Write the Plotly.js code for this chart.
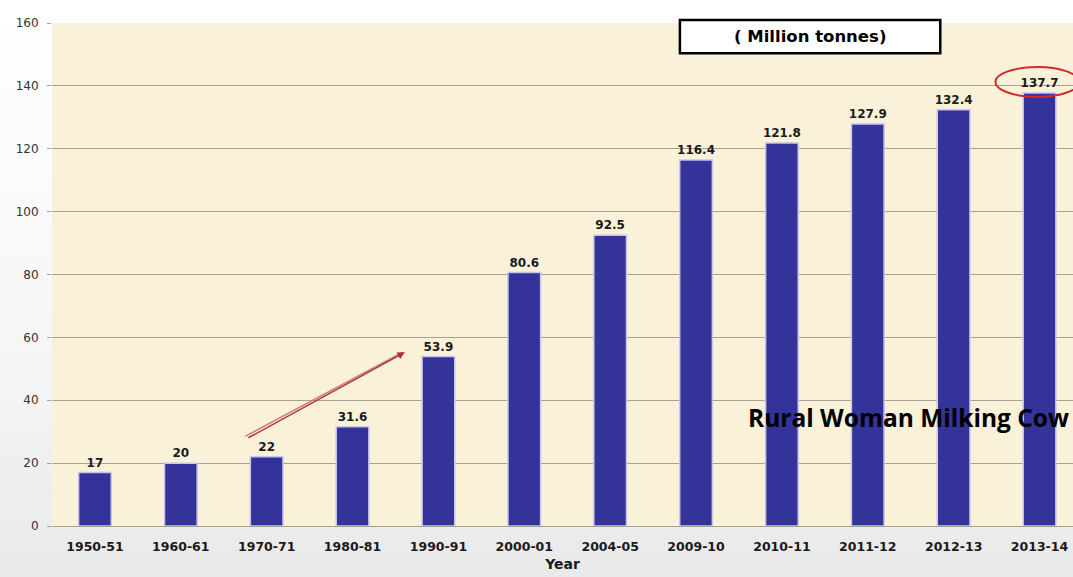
<!DOCTYPE html>
<html><head><meta charset="utf-8">
<script src="https://cdn.plot.ly/plotly-3.0.1.min.js"></script>
<style>html,body{margin:0;padding:0;background:linear-gradient(180deg,#ffffff 0%,#f6f6f6 60%,#e9e9e9 100%)}</style>
</head><body>
<div id="chart" style="width:1073px;height:577px"></div>
<script>
const years = ["1950-51","1960-61","1970-71","1980-81","1990-91","2000-01","2004-05","2009-10","2010-11","2011-12","2012-13","2013-14"];
const milkProduction = [17, 20, 22, 31.6, 53.9, 80.6, 92.5, 116.4, 121.8, 127.9, 132.4, 137.7];
const valueLabels = ["17","20","22","31.6","53.9","80.6","92.5","116.4","121.8","127.9","132.4","137.7"];
const yTicks = [0, 20, 40, 60, 80, 100, 120, 140, 160];

const trace = {
  type: 'bar',
  x: years.map((_, i) => i),
  y: milkProduction,
  text: valueLabels,
  textposition: 'outside',
  constraintext: 'none',
  cliponaxis: false,
  textfont: {family: 'DejaVu Sans', size: 12, color: '#1a1a1a', weight: 'bold'},
  width: 0.38,
  marker: {color: '#333399', line: {color: '#c8c4ec', width: 1.5}},
  hoverinfo: 'skip'
};

const layout = {
  width: 1073, height: 577,
  margin: {l: 52, r: 0, t: 23, b: 51},
  paper_bgcolor: 'rgba(0,0,0,0)',
  plot_bgcolor: '#faf1d9',
  showlegend: false,
  bargap: 0.6,
  xaxis: {
    range: [-0.5, 11.39],
    tickmode: 'array', tickvals: years.map((_, i) => i), ticktext: years,
    tickfont: {family: 'DejaVu Sans', size: 12.5, color: '#1a1a1a', weight: 'bold'},
    ticklabelstandoff: 11,
    showgrid: false, zeroline: false, showline: false,
    title: {text: 'Year', font: {family: 'DejaVu Sans', size: 14, color: '#1a1a1a', weight: 'bold'}, standoff: 6},
    fixedrange: true
  },
  yaxis: {
    range: [0, 160],
    tickmode: 'array', tickvals: yTicks,
    tickfont: {family: 'DejaVu Sans', size: 12, color: '#333'},
    ticklabelstandoff: 6,
    showgrid: true, gridcolor: '#a8a090', gridwidth: 1,
    zeroline: true, zerolinecolor: '#a8a090', zerolinewidth: 1,
    ticks: 'outside', ticklen: 4, tickcolor: '#a8a090',
    showline: false, fixedrange: true
  },
  shapes: [
    {type: 'rect', xref: 'paper', yref: 'paper', x0: 0.615, x1: 0.870, y0: 0.940, y1: 1.006,
     fillcolor: '#ffffff', line: {color: '#000000', width: 2.5}},
    {type: 'circle', xref: 'paper', yref: 'paper', x0: 0.924, x1: 1.006, y0: 0.853, y1: 0.9125,
     line: {color: '#d42a2a', width: 2}},
    {type: 'line', xref: 'x', yref: 'y', x0: 1.75, y0: 28.5, x1: 3.58, y1: 55.2,
     line: {color: '#c88080', width: 1.5}}
  ],
  annotations: [
    {xref: 'paper', yref: 'paper', x: 0.7425, y: 0.973, xanchor: 'center', yanchor: 'middle',
     text: '( Million tonnes)', showarrow: false,
     font: {family: 'DejaVu Sans', size: 16.5, color: '#000', weight: 'bold'}},
    {xref: 'x', yref: 'y', x: 9.47, y: 34.5, xanchor: 'center', yanchor: 'middle',
     text: 'Rural Woman Milking Cow', showarrow: false,
     font: {family: 'Open Sans', size: 24.5, color: '#000', weight: 'bold'}},
    {xref: 'x', yref: 'y', axref: 'x', ayref: 'y', x: 3.61, y: 55.3, ax: 1.77, ay: 27.8,
     text: '', showarrow: true, arrowhead: 2, arrowsize: 1, arrowwidth: 1.5, arrowcolor: '#b03030'}
  ]
};

Plotly.newPlot('chart', [trace], layout, {displayModeBar: false, staticPlot: true});
</script>
</body></html>
